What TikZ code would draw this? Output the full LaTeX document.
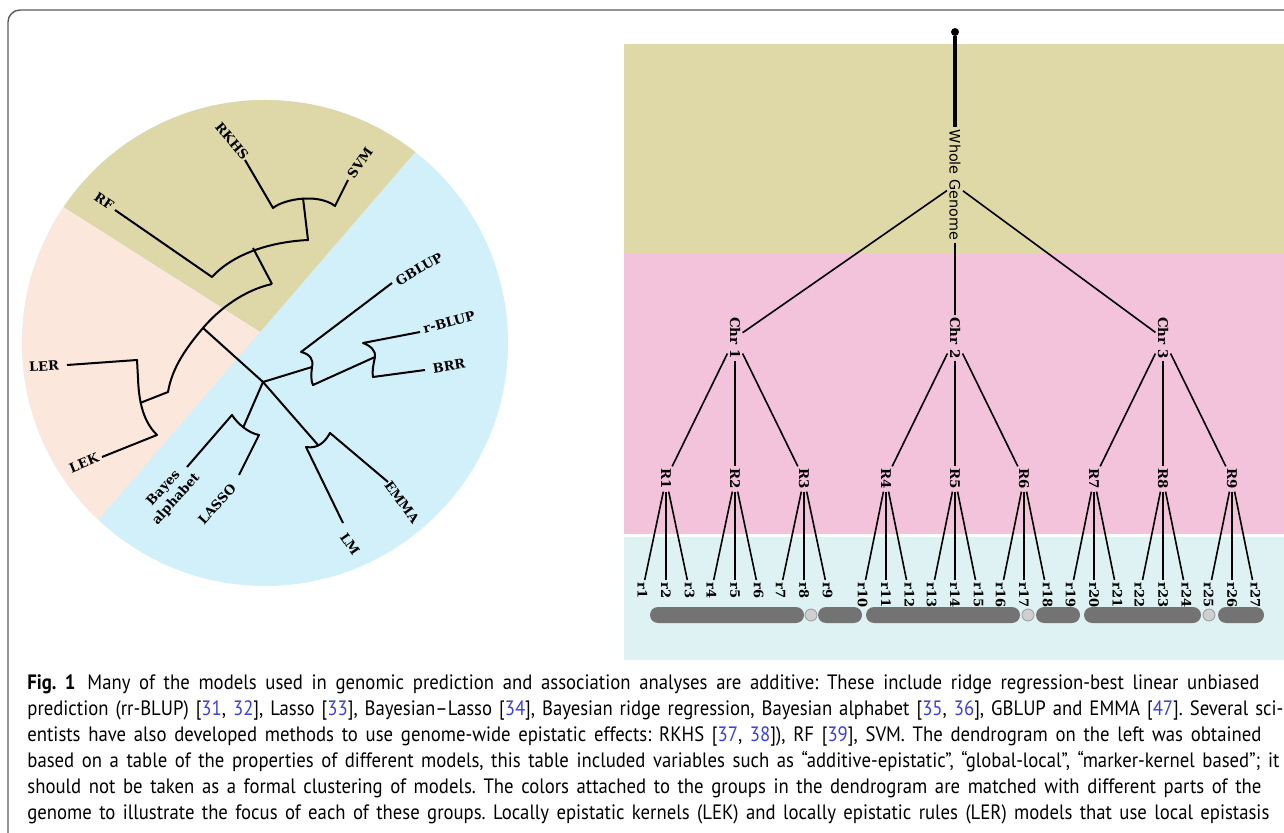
\documentclass[tikz,border=0pt]{standalone}
\usepackage{fontspec}
\setmainfont{DejaVu Serif}
\newfontfamily\wgfont{DejaVu Sans}
\newfontfamily\capfont[FakeStretch=0.9]{PT Sans}
\usetikzlibrary{positioning}
\definecolor{fantan}{HTML}{DED8A8}
\definecolor{fanpink}{HTML}{FCE7DD}
\definecolor{fanblue}{HTML}{D2F0FA}
\definecolor{bandtan}{HTML}{DFD9A7}
\definecolor{bandpink}{HTML}{F2C3DB}
\definecolor{bandcyan}{HTML}{DFF2F3}
\definecolor{chrgray}{HTML}{737373}
\definecolor{cengray}{HTML}{CFCFCF}
\definecolor{citeblue}{HTML}{3B3FD6}
\definecolor{framegray}{HTML}{5A5A5A}
\newcommand{\bl}[1]{\textcolor{citeblue}{#1}}

\begin{document}
\begin{tikzpicture}[x=0.5pt, y=-0.5pt,
    branch/.style={line width=1pt, line join=round},
    model/.style={font=\bfseries\fontsize{6.5}{7.4}\selectfont, inner sep=0pt},
    treelink/.style={line width=0.8pt},
    vlabel/.style={rotate=-90, font=\bfseries\fontsize{6.7}{8}\selectfont, inner sep=1pt},
    leaf/.style={rotate=-90, anchor=west, font=\bfseries\fontsize{6.5}{8}\selectfont, inner sep=1pt},
    chrbar/.style={fill=chrgray, rounded corners=4pt},
    capline/.style={anchor=base west, inner sep=0pt, font=\capfont\fontsize{10.4}{12}\selectfont\frenchspacing}
  ]
\useasboundingbox (0,0) rectangle (1284,833);
\draw[framegray, line width=0.7pt, rounded corners=6pt] (8,840) -- (8,10) -- (1290,10);

% fan of the model groups
\begin{scope}
  \clip (265,343) circle[radius=243];
  \fill[fanblue] (0,80) rectangle (520,600);
  \fill[fantan] (260,332) -- (560,-16) -- (-61,-16) -- (-61,128) -- cycle;
  \fill[fanpink] (260,332) -- (-61,128) -- (-100,700) -- (-1,635) -- cycle;
\end{scope}

% epistatic group
\coordinate (rfTip) at (115,210);
\coordinate (a1) at (212,277);
\coordinate (am) at (253,248);
\coordinate (a2) at (308,240);
\coordinate (b1) at (273,208);
\coordinate (bm) at (303,198);
\coordinate (b2) at (335,206);
\coordinate (rkhsTip) at (245,160);
\coordinate (svmTip) at (348,180);
\draw[branch] (rfTip) -- (a1) .. controls (232,255) and (268,242) .. (a2) -- (bm);
\draw[branch] (rkhsTip) -- (b1) .. controls (284,199) and (318,193) .. (b2) -- (svmTip);
\node[model, rotate=-34] (rf) at (104,201) {RF};
\node[model, rotate=-50] (rkhs) at (232,141) {RKHS};
\node[model, rotate=55] (svm) at (360,163) {SVM};

% local group
\coordinate (c0) at (272,284);
\coordinate (cm) at (203,328);
\coordinate (c1) at (168,392);
\coordinate (k0) at (140,403);
\coordinate (k1) at (137,360);
\coordinate (k2) at (157,435);
\coordinate (lerTip) at (67,365);
\coordinate (lekTip) at (102,457);
\draw[branch] (am) -- (c0);
\draw[branch] (c0) .. controls (245,290) and (220,308) .. (cm) .. controls (186,348) and (172,368) .. (c1) -- (k0);
\draw[branch] (lerTip) -- (k1) -- (138,378) .. controls (139,410) and (147,425) .. (k2) -- (lekTip);
\node[model, rotate=3] (ler) at (44,366) {LER};
\node[model, rotate=22] (lek) at (84,463) {LEK};

% additive group
\coordinate (j) at (263,382);
\coordinate (p1) at (301,352);
\coordinate (pm) at (312,367);
\coordinate (p2) at (313,385);
\coordinate (q1) at (363,343);
\coordinate (qm) at (375,357);
\coordinate (q2) at (373,377);
\coordinate (f1) at (232,415);
\coordinate (fm) at (243,428);
\coordinate (f2) at (259,435);
\coordinate (g1) at (306,447);
\coordinate (gm) at (318,445);
\coordinate (g2) at (330,433);
\coordinate (gblupTip) at (392,283);
\coordinate (rblupTip) at (420,332);
\coordinate (brrTip) at (425,370);
\coordinate (bayesTip) at (187,467);
\coordinate (lassoTip) at (239,475);
\coordinate (lmTip) at (343,523);
\coordinate (emmaTip) at (388,482);
\draw[branch] (cm) -- (j) -- (gm);
\draw[branch] (j) -- (pm);
\draw[branch] (j) -- (fm);
\draw[branch] (gblupTip) -- (p1) .. controls (310,354) and (314,360) .. (pm) .. controls (311,374) and (311,382) .. (p2) -- (qm);
\draw[branch] (rblupTip) -- (q1) .. controls (371,346) and (376,351) .. (qm) .. controls (373,366) and (372,372) .. (q2) -- (brrTip);
\draw[branch] (bayesTip) -- (f1) .. controls (237,423) and (248,433) .. (f2) -- (lassoTip);
\draw[branch] (lmTip) -- (g1) .. controls (318,449) and (325,442) .. (g2) -- (emmaTip);
\node[model, rotate=30] (gblup) at (419,269) {GBLUP};
\node[model, rotate=15] (rblup) at (449,322) {r-BLUP};
\node[model, rotate=9] (brr) at (449,366) {BRR};
\node[model, rotate=48, align=center, font=\bfseries\fontsize{6.5}{8.5}\selectfont] (bayes) at (170,494) {Bayes\\alphabet};
\node[model, rotate=48] (lasso) at (217,504) {LASSO};
\node[model, rotate=-55] (lm) at (350,544) {LM};
\node[model, rotate=-54] (emma) at (402,502) {EMMA};

% genome bands
\fill[bandtan] (624,44) rectangle (1284,253);
\fill[bandpink] (624,253) rectangle (1284,534);
\fill[bandcyan] (624,537) rectangle (1284,660);

% genome hierarchy
\node[circle, fill, inner sep=0pt, minimum size=4pt] (root) at (955,32) {};
\node[vlabel, font=\wgfont\fontsize{7.2}{8}\selectfont] (wg) at (955,185) {Whole Genome};
\draw[line width=2pt] (root) -- (wg);
\foreach \c/\cx in {1/735, 2/955, 3/1163} {
  \node[vlabel] (chr\c) at (\cx,338) {Chr \c};
  \draw[treelink] (wg) -- (chr\c);
  \foreach \j in {1,2,3} {
    \pgfmathtruncatemacro{\rr}{3*(\c-1)+\j}
    \node[vlabel] (R\rr) at ({\cx+(\j-2)*69},479) {R\rr};
    \draw[treelink] (chr\c) -- (R\rr);
    \foreach \k in {1,2,3} {
      \pgfmathtruncatemacro{\lf}{3*(\rr-1)+\k}
      \node[leaf] (r\lf) at ({\cx+(\j-2)*69+(\k-2)*23.5},580) {r\lf};
      \draw[treelink] (R\rr) -- (r\lf);
    }
  }
}

% chromosomes
\foreach \la/\lb/\cen/\sa/\sb in {650/804/811/818/862, 866/1020/1028/1036/1080, 1084/1201/1209/1218/1264} {
  \fill[chrbar] (\la,607) rectangle (\lb,623);
  \filldraw[fill=cengray, draw=gray!80, line width=0.4pt] (\cen,615) circle[radius=6];
  \fill[chrbar] (\sa,607) rectangle (\sb,623);
}

% caption
\node[capline] (cap1) at (27,689) {\makebox[616pt][s]{\textbf{Fig.~1}\hspace*{6pt}Many of the models used in genomic prediction and association analyses are additive: These include ridge regression-best linear unbiased}};
\node[capline] (cap2) at (27,715) {\makebox[628pt][s]{prediction (rr-BLUP) [\bl{31}, \bl{32}], Lasso [\bl{33}], Bayesian–Lasso [\bl{34}], Bayesian ridge regression, Bayesian alphabet [\bl{35}, \bl{36}], GBLUP and EMMA [\bl{47}]. Several sci-}};
\node[capline] (cap3) at (27,741) {\makebox[617pt][s]{entists have also developed methods to use genome-wide epistatic effects: RKHS [\bl{37}, \bl{38}]), RF [\bl{39}], SVM. The dendrogram on the left was obtained}};
\node[capline] (cap4) at (27,767) {\makebox[626pt][s]{based on a table of the properties of different models, this table included variables such as “additive-epistatic”, “global-local”, “marker-kernel based”; it}};
\node[capline] (cap5) at (27,793) {\makebox[617pt][s]{should not be taken as a formal clustering of models. The colors attached to the groups in the dendrogram are matched with different parts of the}};
\node[capline] (cap6) at (27,819) {\makebox[621pt][s]{genome to illustrate the focus of each of these groups. Locally epistatic kernels (LEK) and locally epistatic rules (LER) models that use local epistasis}};
\end{tikzpicture}
\end{document}
